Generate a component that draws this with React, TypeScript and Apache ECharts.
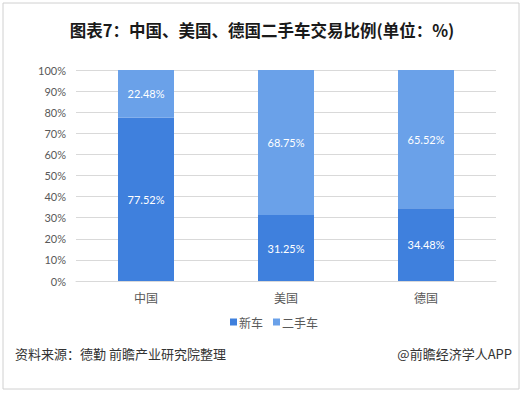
import React, { useEffect, useRef } from "react";
import * as echarts from "echarts";

const categories = ["中国", "美国", "德国"];
const newCar = [77.52, 31.25, 34.48];
const usedCar = [22.48, 68.75, 65.52];
const yTicks = [0, 10, 20, 30, 40, 50, 60, 70, 80, 90, 100];

export default function App() {
  const ref = useRef<HTMLDivElement>(null);
  useEffect(() => {
    const chart = echarts.init(ref.current!, null, { renderer: "svg" });
    const labelStyle = {
      show: true,
      position: "inside",
      color: "#ffffff",
      fontSize: 11,
      fontFamily: "Lato, 'Noto Sans CJK SC', sans-serif",
      formatter: (p: any) => p.value.toFixed(2) + "%",
    };
    chart.setOption({
      animation: false,
      backgroundColor: "#ffffff",
      title: {
        text: "图表7：中国、美国、德国二手车交易比例(单位：%)",
        left: "center",
        top: 17,
        textStyle: {
          fontSize: 16.5,
          fontWeight: "bold",
          color: "#1a1a1a",
          fontFamily: "'Noto Sans CJK SC', sans-serif",
        },
      },
      legend: {
        data: ["新车", "二手车"],
        bottom: 63,
        left: 225,
        itemWidth: 7,
        itemHeight: 7,
        itemGap: 10,
        icon: "rect",
        textStyle: {
          fontSize: 12,
          color: "#595959",
          fontFamily: "'Noto Sans CJK SC', sans-serif",
          padding: [0, 0, 0, -3],
        },
      },
      grid: { left: 76, right: 28, top: 70, bottom: 115 },
      xAxis: {
        type: "category",
        data: categories,
        axisLine: { lineStyle: { color: "#d9d9d9" } },
        axisTick: { show: false },
        axisLabel: {
          fontSize: 12,
          color: "#595959",
          margin: 10,
          fontFamily: "'Noto Sans CJK SC', sans-serif",
        },
      },
      yAxis: {
        type: "value",
        min: yTicks[0],
        max: yTicks[yTicks.length - 1],
        interval: 10,
        axisLine: { show: false },
        axisTick: { show: false },
        splitLine: { lineStyle: { color: "#d9d9d9" } },
        axisLabel: {
          formatter: "{value}%",
          fontSize: 11,
          color: "#595959",
          margin: 10,
          fontFamily: "Lato, sans-serif",
        },
      },
      series: [
        {
          name: "新车",
          type: "bar",
          stack: "total",
          data: newCar,
          barWidth: 56,
          itemStyle: { color: "#3f80dd" },
          label: labelStyle,
        },
        {
          name: "二手车",
          type: "bar",
          stack: "total",
          data: usedCar,
          barWidth: 56,
          itemStyle: { color: "#6aa1e9" },
          label: labelStyle,
        },
      ],
      graphic: [
        {
          type: "rect",
          shape: { x: 3, y: 3, width: 516, height: 386 },
          style: { fill: "none", stroke: "#d0d0d0", lineWidth: 1 },
          silent: true,
        },
        {
          type: "text",
          left: 15,
          top: 347,
          style: {
            text: "资料来源：德勤 前瞻产业研究院整理",
            fontSize: 13,
            fill: "#333333",
            fontFamily: "'Noto Sans CJK SC', sans-serif",
          },
        },
        {
          type: "text",
          right: 12,
          top: 347,
          style: {
            text: "@前瞻经济学人APP",
            fontSize: 13,
            fill: "#333333",
            fontFamily: "'Noto Sans CJK SC', sans-serif",
          },
        },
      ],
    });
    return () => chart.dispose();
  }, []);
  return (
    <div
      ref={ref}
      style={{ position: "fixed", left: 0, top: 0, width: 524, height: 396 }}
    />
  );
}
